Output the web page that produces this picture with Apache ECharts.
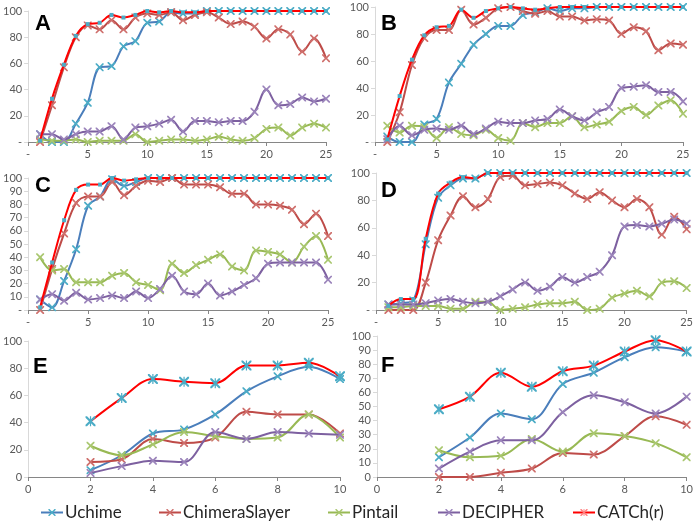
<!DOCTYPE html>
<html><head><meta charset="utf-8">
<script src="https://cdn.jsdelivr.net/npm/echarts@6/dist/echarts.min.js"></script>
<style>html,body{margin:0;padding:0;background:#fff}#c{width:696px;height:525px}</style>
</head><body><div id="c"></div>
<script>
// x categories
const xs25 = [1,2,3,4,5,6,7,8,9,10,11,12,13,14,15,16,17,18,19,20,21,22,23,24,25];
const xs10 = [2,3,4,5,6,7,8,9,10];
const seriesNames = ['Uchime','ChimeraSlayer','Pintail','DECIPHER','CATCh(r)'];
const panelLetters = ['A','B','C','D','E','F'];

// Panel A
const uchimeA   = [6,0,0,14,30,57,58,73,77,91,92,99,98,98,100,100,100,100,100,100,100,100,100,100,100];
const chimeraA  = [0,28,57,80,89,86,93,86,95,98,97,99,93,97,99,95,90,92,88,79,86,82,69,79,64];
const pintailA  = [2,1,1,2,0,1,1,1,6,0,1,2,2,1,2,4,2,1,3,10,11,5,11,14,11];
const decipherA = [6,6,2,6,8,8,12,2,11,12,14,17,8,16,16,15,16,16,23,40,28,29,34,31,33];
const catchA    = [1,33,59,81,90,91,97,95,97,100,99,100,99,99,100,100,100,100,100,100,100,100,100,100,100];
// Panel B
const uchimeB   = [4,0,0,13,17,44,58,72,80,86,86,94,96,99,97,99,99,100,100,100,100,100,100,100,100];
const chimeraB  = [0,22,57,77,83,83,98,87,92,99,100,97,95,97,93,93,90,91,90,80,85,82,68,73,72];
const pintailB  = [12,7,12,11,3,11,6,5,9,3,1,14,11,14,14,19,11,13,15,23,26,20,27,31,21];
const decipherB = [2,12,5,9,10,9,12,6,10,15,14,14,16,17,24,19,16,22,26,40,41,42,37,37,30];
const catchB    = [2,34,61,79,85,86,98,92,97,99,100,99,98,99,100,100,100,100,100,100,100,100,100,100,100];
// Panel C
const uchimeC   = [8,2,22,46,79,86,99,94,97,100,100,100,100,100,100,100,100,100,100,100,100,100,100,100,100];
const chimeraC  = [0,31,58,81,86,86,97,87,94,98,97,100,95,95,95,93,88,88,80,80,79,76,65,73,56];
const pintailC  = [40,30,31,21,21,21,26,28,21,19,15,35,28,34,38,42,33,30,45,44,42,36,48,56,38];
const decipherC = [8,12,7,13,8,9,11,9,14,9,16,26,14,12,20,11,14,19,24,35,36,36,36,36,23];
const catchC    = [2,36,68,91,95,95,100,98,99,100,100,100,100,100,100,100,100,100,100,100,100,100,100,100,100];
// Panel D
const uchimeD   = [4,5,7,48,82,91,96,96,100,100,100,100,100,100,100,100,100,100,100,100,100,100,100,100,100];
const chimeraD  = [0,0,0,20,51,69,83,75,81,97,98,91,92,93,91,85,81,86,80,75,81,75,55,68,59];
const pintailD  = [2,2,3,3,3,1,1,6,6,0,1,2,4,5,5,6,0,1,9,12,14,10,20,21,16];
const decipherD = [4,4,4,5,7,8,6,5,6,10,15,20,14,17,24,20,24,28,40,61,62,61,63,66,63];
const catchD    = [3,8,8,52,85,93,97,96,100,100,100,100,100,100,100,100,100,100,100,100,100,100,100,100,100];
// Panel E
const uchimeE   = [5,16,32,35,46,63,74,81,72];
const chimeraE  = [11,13,28,25,29,48,46,46,32];
const pintailE  = [23,16,24,33,30,28,29,46,29];
const decipherE = [3,8,12,11,33,28,33,32,31];
const catchE    = [41,58,72,70,69,82,82,84,74];
// Panel F
const uchimeF   = [14,28,45,41,66,74,85,92,89];
const chimeraF  = [0,0,3,6,17,16,29,43,37];
const pintailF  = [19,14,15,27,18,31,29,24,14];
const decipherF = [6,18,26,26,46,58,53,45,57];
const catchF    = [48,57,74,64,75,79,89,97,89];

const panels = [
  {xs: xs25, d: [uchimeA,chimeraA,pintailA,decipherA,catchA]},
  {xs: xs25, d: [uchimeB,chimeraB,pintailB,decipherB,catchB]},
  {xs: xs25, d: [uchimeC,chimeraC,pintailC,decipherC,catchC]},
  {xs: xs25, d: [uchimeD,chimeraD,pintailD,decipherD,catchD]},
  {xs: xs10, d: [uchimeE,chimeraE,pintailE,decipherE,catchE]},
  {xs: xs10, d: [uchimeF,chimeraF,pintailF,decipherF,catchF]}
];

const grids = [
  {left:27, top:11, width:299, height:131},
  {left:375, top:7, width:308, height:135},
  {left:27, top:178, width:301, height:132},
  {left:376, top:173, width:311, height:137},
  {left:25, top:341, width:315, height:136},
  {left:377, top:336, width:313, height:141}
];
const xCfg = [
  {max:25, interval:5, dash:true},{max:25, interval:5, dash:true},
  {max:25, interval:5, dash:true},{max:25, interval:5, dash:true},
  {max:10, interval:2, dash:false},{max:10, interval:2, dash:false}
];
const yInt = [20,20,10,20,20,10];
const letterPos = [[35,13],[381,13],[35,175],[381,180],[33,356],[381,355]];

const lineColors = ['#4a7ebb','#be4b48','#98b954','#7d60a0','#ff0000'];
const markColors = ['#4bacc6','#cf6f6c','#a9c76f','#9b84bb','#4bacc6'];
const X = 'path://M0,0 L1.5,0 L5,3.5 L8.5,0 L10,0 L10,1.5 L6.5,5 L10,8.5 L10,10 L8.5,10 L5,6.5 L1.5,10 L0,10 L0,8.5 L3.5,5 L0,1.5 Z';
const AST = 'path://M0,0 L1.5,0 L5,3.5 L8.5,0 L10,0 L10,1.5 L6.5,5 L10,8.5 L10,10 L8.5,10 L5,6.5 L1.5,10 L0,10 L0,8.5 L3.5,5 L0,1.5 Z M4.4,0 L5.6,0 L5.6,10 L4.4,10 Z';

const lab = {color:'#595959', fontSize:11, fontFamily:'Lato'};
const xAxis = [], yAxis = [], title = [];
const seriesByPanel = [];
grids.forEach((g, i) => {
  const dash = xCfg[i].dash;
  xAxis.push({type:'value', gridIndex:i, min:0, max:xCfg[i].max, interval:xCfg[i].interval,
    axisLine:{show:true, lineStyle:{color:'#868686', width:1}},
    axisTick:{show:true, length:4, lineStyle:{color:'#868686'}},
    splitLine:{show:false},
    axisLabel:Object.assign({margin:7, formatter: v => (v===0 && dash) ? '-' : String(v)}, lab)});
  yAxis.push({type:'value', gridIndex:i, min:0, max:100, interval:yInt[i],
    axisLine:{show:true, lineStyle:{color:'#d9d9d9', width:1}},
    axisTick:{show:true, length:4, lineStyle:{color:'#d9d9d9'}},
    splitLine:{show:false},
    axisLabel:Object.assign({margin:6, formatter: v => (v===0 && dash) ? '-' : String(v)}, lab)});
  title.push({text: panelLetters[i], left: letterPos[i][0], top: letterPos[i][1], padding:0,
    textStyle:{fontSize:22, fontWeight:'bold', color:'#000', fontFamily:'Liberation Sans'}});
  const p = panels[i];
  const list = [];
  p.d.forEach((arr, s) => {
    let sym = X, size = 8;
    if (s === 4) { if (i < 4) { sym = 'rect'; size = 4; } else { sym = AST; size = 10; } }
    list.push({type:'line', name: seriesNames[s], xAxisIndex:i, yAxisIndex:i,
      data: p.xs.map((x, k) => [x, arr[k]]), smooth:0.35,
      symbol: sym, symbolSize: size, showSymbol:true,
      lineStyle:{color: lineColors[s], width:2},
      itemStyle:{color: markColors[s]}, z: 2 + s});
  });
  seriesByPanel.push(list);
});
// panels E and F first so that the legend picks their (asterisk) markers
const series = [].concat(seriesByPanel[4], seriesByPanel[5], seriesByPanel[0], seriesByPanel[1], seriesByPanel[2], seriesByPanel[3]);

const legendLeft = [40,158,327,437,572];
const legend = seriesNames.map((n, s) => ({
  data:[n], left: legendLeft[s], top: 504, padding:0, orient:'horizontal',
  itemWidth:22, itemHeight:9, itemGap:0,
  textStyle:{fontSize:17, color:'#262626', fontFamily:'Lato', padding:[0,0,0,-3]},
  itemStyle:{color: s===4 ? '#ff8080' : markColors[s]},
  selectedMode:false
}));

const chart = echarts.init(document.getElementById('c'), null, {renderer:'canvas'});
chart.setOption({animation:false, backgroundColor:'#fff', title, grid:grids, xAxis, yAxis, series, legend});
</script></body></html>
